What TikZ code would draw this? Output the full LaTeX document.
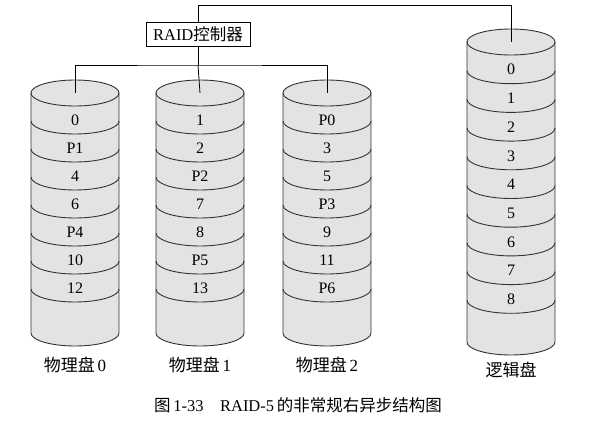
\documentclass[tikz,border=0pt]{standalone}
\usepackage{fontspec}
\setmainfont{Liberation Serif}
\newfontfamily\cjk{Noto Sans CJK SC}
\usetikzlibrary{positioning, calc}

\begin{document}
\begin{tikzpicture}[
    x=1pt, y=1pt,
    diskfill/.style={fill=black!11},
    diskline/.style={draw=black!80, line width=0.9pt},
    cellstyle/.style={font=\fontsize{16}{16}\selectfont, inner sep=0pt}, % numbers inside the disks
    labelstyle/.style={font=\fontsize{17}{17}\selectfont},
    ctrlstyle/.style={draw, line width=0.8pt, font=\fontsize{16.5}{16.5}\selectfont, inner sep=2pt, minimum width=104pt, minimum height=24pt},
    wire/.style={line width=0.8pt}
]

% Page size
\useasboundingbox (0,0) rectangle (600,440);

% Physical disks: centre x / name / blocks
\foreach \cx/\dname/\cells [count=\n from 0] in {75/d0/{0,P1,4,6,P4,10,12}, 200/d1/{1,2,P2,7,8,P5,13}, 327/d2/{P0,3,5,P3,9,11,P6}} {
    \fill[diskfill] (\cx-44,347) -- (\cx-44,107) arc[start angle=180, end angle=360, x radius=44pt, y radius=13pt]
        -- (\cx+44,347) arc[start angle=0, end angle=180, x radius=44pt, y radius=13pt] -- cycle;
    \draw[diskline] (\cx-44,347) -- (\cx-44,107) arc[start angle=180, end angle=360, x radius=44pt, y radius=13pt] -- (\cx+44,347);
    \draw[diskline] (\cx,347) ellipse[x radius=44pt, y radius=13pt];
    \foreach \k in {1,...,7}
        \draw[diskline] (\cx-44,347-28*\k) arc[start angle=180, end angle=360, x radius=44pt, y radius=13pt];
    \foreach \c [count=\k] in \cells
        \node[cellstyle] at (\cx,348-28*\k) {\c};
    \coordinate (\dname-top) at (\cx,347);
    \coordinate (\dname-bot) at (\cx,94);
    \node (\dname-label) [labelstyle, below=19pt of \dname-bot, anchor=center] {{\cjk 物理盘}\,\n};
}

% Logical disk
\fill[diskfill] (467,398) -- (467,98) arc[start angle=180, end angle=360, x radius=44pt, y radius=13pt]
    -- (555,398) arc[start angle=0, end angle=180, x radius=44pt, y radius=13pt] -- cycle;
\draw[diskline] (467,398) -- (467,98) arc[start angle=180, end angle=360, x radius=44pt, y radius=13pt] -- (555,398);
\draw[diskline] (511,398) ellipse[x radius=44pt, y radius=13pt];
\foreach \k in {1,...,9}
    \draw[diskline] (467,398-28.7*\k) arc[start angle=180, end angle=360, x radius=44pt, y radius=13pt];
\foreach \c [count=\k] in {0,...,8}
    \node[cellstyle] at (511,399-28.7*\k) {\c};
\coordinate (lg-top) at (511,398);
\coordinate (lg-bot) at (511,85);
\node (lg-label) [labelstyle, below=15pt of lg-bot, anchor=center] {\cjk 逻辑盘};

% Controller and wires
\node (ctrl) [ctrlstyle] at (198,405.5) {RAID{\cjk 控制器}};
\coordinate (lg-wire) at (511,435);
\coordinate (bus) at (198,375);
\draw[wire] (ctrl.north) |- (lg-wire) -- (lg-top);
\draw[wire] (ctrl.south) -- (bus);
\draw[wire] (d0-top) |- (bus) -| (d2-top);
\draw[wire] (bus) -- (d1-top);

% Caption
\node (caption) [font=\fontsize{16.5}{16.5}\selectfont] at (298,35) {{\cjk 图}\,1-33\quad RAID-5\,{\cjk 的非常规右异步结构图}};

\end{tikzpicture}
\end{document}
